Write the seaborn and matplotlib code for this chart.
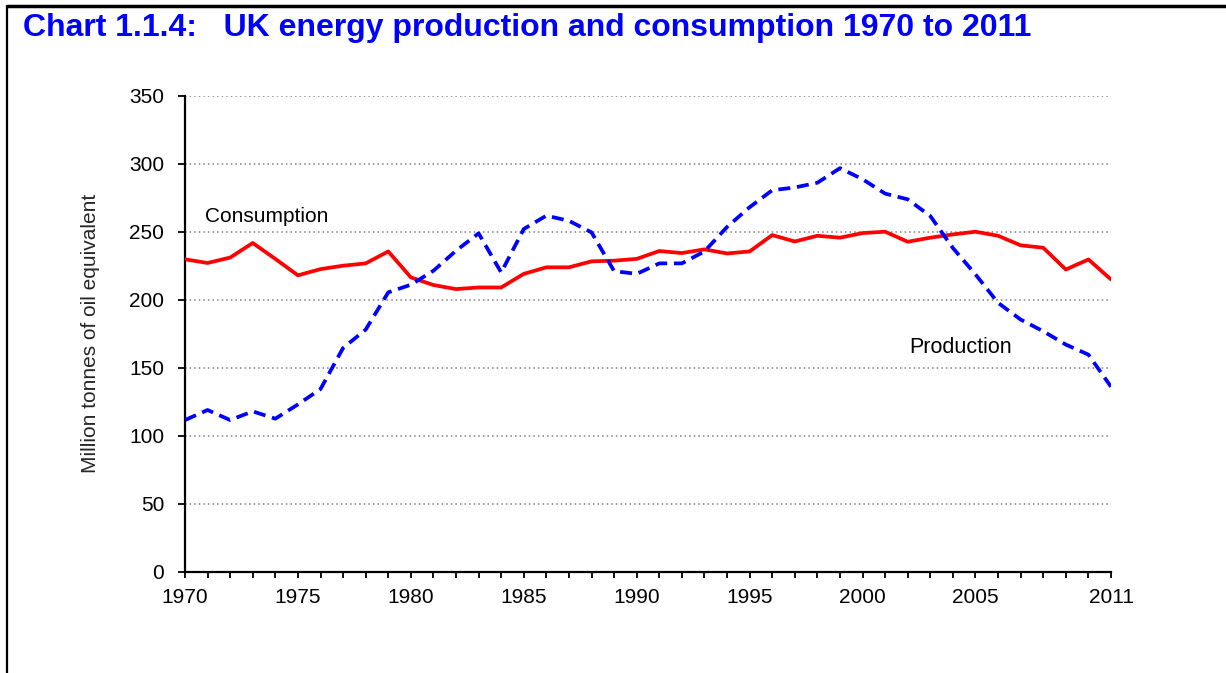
import matplotlib
matplotlib.use("Agg")
import matplotlib.pyplot as plt
import seaborn as sns
import pandas as pd
from matplotlib.lines import Line2D

years = list(range(1970, 2012))
consumption = [229.7, 227.0, 231.0, 241.7, 230.0, 217.9, 222.5, 225.0, 226.7, 235.5,
               216.4, 210.8, 207.8, 209.0, 209.0, 219.0, 223.8, 223.8, 228.2, 228.7,
               230.0, 235.8, 234.3, 237.0, 234.0, 235.5, 247.5, 242.8, 247.0, 245.6,
               249.0, 250.0, 242.6, 245.6, 248.0, 250.0, 247.0, 240.0, 238.2, 222.2,
               229.6, 214.9]
production = [111.5, 118.9, 111.5, 117.9, 112.5, 123.0, 134.3, 164.5, 178.0, 205.4,
              211.0, 221.3, 236.0, 248.8, 220.0, 252.0, 261.8, 258.0, 249.5, 221.0,
              219.0, 226.7, 226.7, 235.5, 253.5, 268.0, 280.5, 282.5, 286.0, 296.7,
              288.6, 278.0, 273.8, 261.5, 238.0, 218.6, 197.7, 185.4, 176.8, 167.0,
              159.6, 136.0]
yticks = [0, 50, 100, 150, 200, 250, 300, 350]
xtick_labels = {1970: "1970", 1975: "1975", 1980: "1980", 1985: "1985", 1990: "1990",
                1995: "1995", 2000: "2000", 2005: "2005", 2011: "2011"}
title = "Chart 1.1.4:   UK energy production and consumption 1970 to 2011"
ylabel = "Million tonnes of oil equivalent"

df_c = pd.DataFrame({"Year": years, "Value": consumption})
df_p = pd.DataFrame({"Year": years, "Value": production})

sns.set_style("white")
plt.rcParams["font.family"] = ["Liberation Sans", "DejaVu Sans"]

W, H = 1226, 673
fig = plt.figure(figsize=(W / 100, H / 100), dpi=100)
ax = fig.add_axes([185 / W, 1 - 571.7 / H, (1111 - 185) / W, (571.7 - 95.7) / H])

for y in yticks[1:]:
    ax.axhline(y, color="#808080", linestyle=(0, (1, 2)), linewidth=1.1, zorder=1)

sns.lineplot(data=df_c, x="Year", y="Value", ax=ax, color="#FF0000", linewidth=2.7,
             zorder=3, legend=False)
sns.lineplot(data=df_p, x="Year", y="Value", ax=ax, color="#0000FF", linewidth=2.7,
             zorder=3, legend=False)
ax.lines[-1].set_dashes((3.2, 1.8))

ax.set_xlim(1970, 2011)
ax.set_ylim(0, 350)
ax.set_yticks(yticks)
ax.set_yticklabels([str(v) for v in yticks])
ax.set_xticks(years)
ax.set_xticklabels([xtick_labels.get(y, "") for y in years])
ax.tick_params(axis="y", direction="out", length=5, width=1.3, pad=10, labelsize=15,
               left=True, colors="black")
ax.tick_params(axis="x", direction="out", length=4, width=1.3, pad=8, labelsize=15,
               bottom=True, colors="black")
for s in ["top", "right"]:
    ax.spines[s].set_visible(False)
for s in ["left", "bottom"]:
    ax.spines[s].set_color("black")
    ax.spines[s].set_linewidth(1.6)
ax.set_xlabel("")
ax.set_ylabel(ylabel, fontsize=15, labelpad=21)

ax.text(1970.9, 261.5, "Consumption", fontsize=15, ha="left", va="center", color="black")
ax.text(2002.05, 165, "Production", fontsize=15.5, ha="left", va="center", color="black")

fig.text(23 / W, 1 - 36 / H, title, fontsize=23, fontweight="bold", color="#0000FF",
         ha="left", va="baseline")

# frame
fig.add_artist(Line2D([7 / W, 1], [1 - 5.5 / H, 1 - 5.5 / H], color="black", linewidth=2.5,
                      transform=fig.transFigure))
fig.add_artist(Line2D([7 / W, 7 / W], [0, 1 - 5.5 / H], color="black", linewidth=1.6,
                      transform=fig.transFigure))

fig.savefig("out.png", dpi=100)
